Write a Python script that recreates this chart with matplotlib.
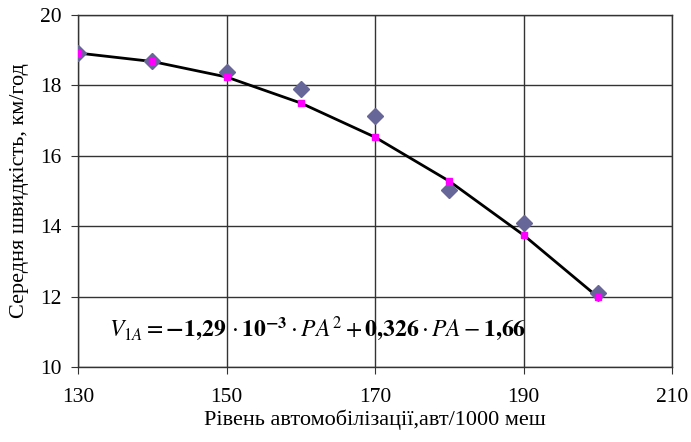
import matplotlib.pyplot as plt

# Measured speeds (diamonds) and fitted values (magenta squares)
level = [130, 140, 150, 160, 170, 180, 190, 200]
speed = [18.92, 18.69, 18.38, 17.9, 17.13, 15.03, 14.09, 12.1]
fitted = [18.92, 18.68, 18.24, 17.5, 16.53, 15.28, 13.75, 11.99]

x_ticks = [130, 150, 170, 190, 210]
y_ticks = [10, 12, 14, 16, 18, 20]

plt.rcParams["font.family"] = ["Liberation Serif", "DejaVu Serif"]
plt.rcParams["mathtext.fontset"] = "stix"

fig = plt.figure(figsize=(6.91, 4.42), dpi=100)
ax = fig.add_axes([0.1129, 0.1697, 0.8596, 0.7963])

ax.plot(level, fitted, color="black", linewidth=2, zorder=3)
ax.plot(level, speed, linestyle="none", marker="D", markersize=8,
        color="#666699", zorder=4)
ax.plot(level, fitted, linestyle="none", marker="s", markersize=4,
        color="#FF00FF", zorder=5)

ax.set_xlim(130, 210)
ax.set_ylim(10, 20)
ax.set_xticks(x_ticks)
ax.set_yticks(y_ticks)
ax.grid(True, color="#333333", linewidth=1)
ax.set_axisbelow(True)
for side in ["top", "right", "left", "bottom"]:
    ax.spines[side].set_color("#333333")
    ax.spines[side].set_linewidth(1)
ax.tick_params(labelsize=15.5, direction="out", length=5, color="#333333")
ax.tick_params(axis="x", pad=10)
ax.tick_params(axis="y", pad=7)

ax.set_xlabel("Рівень автомобілізації,авт/1000 меш", fontsize=16, labelpad=2)
ax.set_ylabel("Середня швидкість, км/год", fontsize=16, labelpad=8)

ax.text(134.2, 11.1,
        r"$V_{1A} = \mathbf{-1{,}29}\,\cdot\mathbf{10^{-3}}\cdot PA^2"
        r" + \mathbf{0{,}326}\cdot PA - \mathbf{1{,}66}$",
        fontsize=17, va="center", ha="left", zorder=6)

fig.savefig("out.png", dpi=100)
